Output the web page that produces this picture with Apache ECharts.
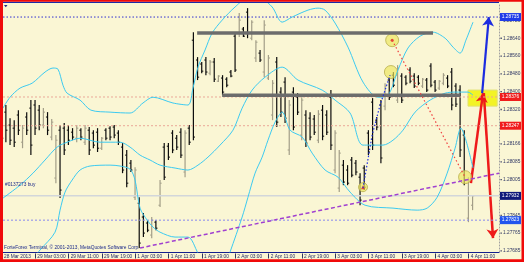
<!DOCTYPE html>
<html><head><meta charset="utf-8">
<script src="https://cdn.jsdelivr.net/npm/echarts/dist/echarts.min.js"></script>
<style>html,body{margin:0;padding:0;background:#FAF6D4;}#c{width:524px;height:262px;}</style>
</head><body><div id="c"></div><script>
// ---- axis extents (bar index / price) ----
const X_MIN = 0.31, X_MAX = 119.34, Y_MIN = 1.2768, Y_MAX = 1.28798;

// ---- time axis labels (bar index of each label) ----
const timeLabels = ['28 Mar 2013','29 Mar 03:00','29 Mar 11:00','29 Mar 19:00','1 Apr 03:00','1 Apr 11:00','1 Apr 19:00','2 Apr 03:00','2 Apr 11:00','2 Apr 19:00','3 Apr 03:00','3 Apr 11:00','3 Apr 19:00','4 Apr 03:00','4 Apr 11:00'];
const timeLabelBars = [0,8,16,24,32,40,48,56,64,72,80,88,96,104,112];

// ---- price scale labels ----
const priceTicks = ['1.28720','1.28640','1.28560','1.28480','1.28400','1.28320','1.28166','1.28085','1.28005','1.27845','1.27765','1.27685'];
const priceBoxes = [1.28735, 1.28376, 1.28247, 1.27932, 1.27823];

// ---- H1 OHLC bars ----
const open = [1.28263,1.28308,1.28250,1.28236,1.28295,1.28173,1.28286,1.28326,1.28340,1.28317,
1.28250,1.28286,1.28196,1.28012,1.28227,1.28236,1.28227,1.28218,1.28191,1.28227,
1.28173,1.28227,1.28214,1.28218,1.28146,1.28227,1.28236,1.28241,1.28214,1.28151,
1.28115,1.28079,1.27926,1.27899,1.27837,1.27810,1.27756,1.27814,1.27890,1.28151,
1.28155,1.28214,1.28191,1.28218,1.28039,1.28236,1.28631,1.28542,1.28524,1.28542,
1.28483,1.28533,1.28447,1.28461,1.28456,1.28488,1.28649,1.28663,1.28681,1.28757,
1.28640,1.28551,1.28573,1.28488,1.28461,1.28295,1.28533,1.28398,1.28443,1.28138,
1.28398,1.28375,1.28205,1.28295,1.28281,1.28277,1.28182,1.28317,1.28295,1.28375,
1.28048,1.27967,1.28070,1.28048,1.28093,1.28079,1.28016,1.28057,1.28214,1.28353,
1.28272,1.28340,1.28335,1.28452,1.28474,1.28362,1.28470,1.28465,1.28497,1.28470,
1.28465,1.28425,1.28452,1.28515,1.28443,1.28416,1.28438,1.28461,1.28488,1.28425,
1.28407,1.28205,1.27832,1.27890];
const high = [1.28295,1.28340,1.28281,1.28272,1.28317,1.28250,1.28308,1.28362,1.28362,1.28340,
1.28326,1.28308,1.28277,1.28205,1.28250,1.28259,1.28250,1.28236,1.28250,1.28236,
1.28250,1.28241,1.28227,1.28236,1.28196,1.28236,1.28245,1.28250,1.28227,1.28169,
1.28138,1.28093,1.28061,1.27926,1.27855,1.27823,1.27837,1.27823,1.28003,1.28169,
1.28169,1.28227,1.28205,1.28236,1.28227,1.28250,1.28667,1.28555,1.28533,1.28555,
1.28542,1.28551,1.28474,1.28474,1.28465,1.28497,1.28663,1.28753,1.28690,1.28775,
1.28721,1.28631,1.28587,1.28721,1.28564,1.28452,1.28555,1.28420,1.28465,1.28362,
1.28420,1.28393,1.28375,1.28317,1.28308,1.28295,1.28317,1.28340,1.28317,1.28407,
1.28227,1.28138,1.28093,1.28070,1.28106,1.28093,1.28034,1.28070,1.28227,1.28371,
1.28286,1.28362,1.28438,1.28465,1.28488,1.28519,1.28483,1.28474,1.28510,1.28483,
1.28474,1.28461,1.28461,1.28528,1.28452,1.28452,1.28483,1.28474,1.28506,1.28438,
1.28429,1.28227,1.28016,1.27935];
const low = [1.28151,1.28173,1.28160,1.28151,1.28205,1.28146,1.28205,1.28115,1.28205,1.28227,
1.28236,1.28205,1.28182,1.27989,1.27922,1.28115,1.28160,1.28182,1.28173,1.28182,
1.28160,1.28115,1.28146,1.28129,1.28138,1.28182,1.28182,1.28191,1.28160,1.28034,
1.27971,1.28039,1.27913,1.27698,1.27747,1.27769,1.27742,1.27778,1.27882,1.28003,
1.28093,1.28124,1.28138,1.28102,1.28016,1.28160,1.28182,1.28452,1.28483,1.28474,
1.28474,1.28443,1.28443,1.28384,1.28420,1.28465,1.28488,1.28645,1.28645,1.28640,
1.28631,1.28533,1.28533,1.28465,1.28452,1.28272,1.28241,1.28286,1.28259,1.28115,
1.28227,1.28295,1.28182,1.28151,1.28182,1.28205,1.28169,1.28182,1.28205,1.28138,
1.28034,1.27949,1.27980,1.27980,1.28016,1.28025,1.27890,1.27958,1.28115,1.28138,
1.28227,1.28079,1.28317,1.28362,1.28420,1.28349,1.28349,1.28429,1.28438,1.28416,
1.28429,1.28416,1.28398,1.28420,1.28398,1.28407,1.28429,1.28416,1.28317,1.28331,
1.28106,1.27980,1.27814,1.27868];
const close = [1.28191,1.28227,1.28182,1.28173,1.28227,1.28236,1.28227,1.28160,1.28236,1.28250,
1.28308,1.28227,1.28263,1.28182,1.27958,1.28138,1.28182,1.28196,1.28236,1.28196,
1.28236,1.28138,1.28160,1.28146,1.28191,1.28191,1.28196,1.28205,1.28173,1.28048,
1.27989,1.28048,1.28048,1.27720,1.27765,1.27778,1.27823,1.27787,1.27989,1.28016,
1.28106,1.28138,1.28151,1.28115,1.28214,1.28173,1.28196,1.28465,1.28492,1.28488,
1.28533,1.28456,1.28470,1.28398,1.28429,1.28470,1.28497,1.28721,1.28649,1.28663,
1.28712,1.28622,1.28542,1.28699,1.28551,1.28438,1.28263,1.28308,1.28281,1.28340,
1.28241,1.28308,1.28362,1.28169,1.28196,1.28218,1.28299,1.28200,1.28218,1.28160,
1.28214,1.28124,1.27994,1.27989,1.28025,1.28039,1.27913,1.27971,1.28129,1.28160,
1.28241,1.28102,1.28425,1.28375,1.28429,1.28506,1.28362,1.28438,1.28447,1.28425,
1.28438,1.28456,1.28407,1.28429,1.28407,1.28447,1.28474,1.28425,1.28340,1.28344,
1.28138,1.28003,1.28003,1.27932];

// ---- band indicator lines [bar index, price] ----
const bandUpper = [[0.3,1.28326],[2.0,1.28375],[4.4,1.28416],[7.3,1.28438],[10.4,1.28488],[12.3,1.28506],[13.5,1.28501],[14.7,1.28429],[15.7,1.28393],[18.8,1.28362],[21.4,1.28317],[26.0,1.28308],[30.8,1.28304],[33.9,1.28349],[36.3,1.28375],[41.1,1.28349],[44.7,1.28340],[45.9,1.28416],[47.1,1.28510],[48.8,1.28587],[50.5,1.28663],[52.9,1.28721],[56.0,1.28780],[58.4,1.28811],[62.5,1.28811],[64.9,1.28780],[67.3,1.28712],[69.7,1.28735],[73.5,1.28766],[75.9,1.28775],[77.6,1.28766],[80.0,1.28708],[83.1,1.28600],[86.7,1.28443],[90.3,1.28375],[92.7,1.28384],[95.1,1.28497],[97.5,1.28596],[100.4,1.28649],[103.5,1.28667],[106.4,1.28640],[108.3,1.28600],[110.0,1.28573],[111.4,1.28631],[113.1,1.28712]];
const bandMiddle = [[0.3,1.27922],[4.4,1.27980],[7.5,1.28034],[10.4,1.28093],[13.3,1.28151],[15.7,1.28173],[18.8,1.28191],[23.6,1.28173],[28.4,1.28173],[30.8,1.28151],[33.2,1.28115],[35.6,1.28093],[38.0,1.28070],[41.6,1.28057],[44.7,1.28048],[47.1,1.28070],[49.5,1.28106],[52.4,1.28160],[55.5,1.28227],[57.7,1.28326],[60.1,1.28407],[63.2,1.28465],[67.3,1.28510],[71.1,1.28452],[76.9,1.28407],[80.0,1.28362],[83.6,1.28304],[86.7,1.28160],[91.5,1.28160],[93.9,1.28182],[96.3,1.28227],[99.2,1.28308],[102.8,1.28362],[106.4,1.28393],[108.8,1.28398],[111.9,1.28398],[113.1,1.28384]];
const bandLower = [[6.8,1.27635],[9.2,1.27689],[12.8,1.27769],[14.0,1.27868],[15.2,1.27949],[16.9,1.28003],[18.8,1.28048],[21.2,1.28066],[26.0,1.28070],[28.4,1.28066],[30.8,1.28052],[32.0,1.28003],[33.2,1.27877],[34.9,1.27823],[36.3,1.27792],[38.0,1.27769],[41.6,1.27747],[44.7,1.27747],[47.1,1.27675],[48.8,1.27621],[53.6,1.27621],[54.8,1.27680],[57.7,1.27837],[59.1,1.27926],[60.8,1.28034],[62.5,1.28106],[63.9,1.28182],[65.6,1.28263],[67.3,1.28308],[69.2,1.28227],[72.1,1.28196],[74.5,1.28124],[77.6,1.28048],[80.7,1.28016],[83.6,1.27949],[87.2,1.27890],[93.9,1.27877],[99.7,1.27868],[102.1,1.27877],[104.5,1.27926],[106.9,1.28034],[108.8,1.28146],[110.2,1.28236],[111.4,1.28182],[113.1,1.28057]];

// ---- drawn objects ----
const levelTop = 1.28735, levelPink = [1.28376, 1.28247], bidLine = 1.27932, levelLow = 1.27823;
const grayUpper = [[46.9,1.28663],[103.5,1.28663]];
const grayLower = [[52.9,1.28384],[110.0,1.28384]];
const trendLine = [[33.2,1.27698],[119.34,1.28034]];
const redDotted = [[93.7,1.28631],[111.2,1.28016]];
const blueDotted = [[86.7,1.27967],[88.9,1.28205],[90.8,1.28340],[93.2,1.28474]];
const circles = [[93.7,1.28631],[93.4,1.28488],[111.2,1.28016]];
const smallCircle = [[86.7,1.27971]];
const yellowBox = [[111.9,1.28407,118.9,1.28335]];
const arrowBlue = [[115.3,1.28393],[116.9,1.28735]];
const arrowRedUp = [[112.6,1.27989],[115.5,1.28393]];
const arrowRedDown = [[115.7,1.28393],[117.9,1.27742]];

const boxColors = ['#1f3ce8','#f01c1c','#f01c1c','#10187a','#2456ee'];
const FONT = '4.8px "Liberation Sans", Arial, sans-serif';
const NAVY = '#222a6a';

const bars = open.map((o,i)=>[i,o,high[i],low[i],close[i]]);
const hline = (p)=>[[X_MIN,p],[X_MAX,p]];

function lineSeries(data, color, width, type, extra){
  return Object.assign({type:'line', data, showSymbol:false, symbol:'none', animation:false,
    lineStyle:{color, width, type: type||'solid'}, silent:true}, extra||{});
}

const chart = echarts.init(document.getElementById('c'), null, {renderer:'canvas'});
chart.setOption({
  animation:false,
  backgroundColor:'#FAF6D4',
  grid:{left:3,right:25,top:3,bottom:10,show:false},
  xAxis:{type:'value',min:X_MIN,max:X_MAX,axisLine:{show:true,onZero:false,lineStyle:{color:'#14208e',width:1}},
    axisTick:{show:false},axisLabel:{show:false},splitLine:{show:false}},
  yAxis:{type:'value',position:'right',min:Y_MIN,max:Y_MAX,scale:true,
    axisLine:{show:true,lineStyle:{color:'#a0a0a0',type:[1,2]}},axisTick:{show:false},axisLabel:{show:false},splitLine:{show:false}},
  series:[
    lineSeries(hline(levelTop),'#2f2fd0',1,[1.5,2]),
    lineSeries(hline(levelPink[0]),'#eaa898',1,[2,2]),
    lineSeries(hline(levelPink[1]),'#eaa898',1,[2,2]),
    lineSeries(hline(bidLine),'#d2d6da',1.5,'solid'),
    lineSeries(hline(levelLow),'#8888ee',1,[2,2]),
    lineSeries(bandUpper,'#3ccaf0',1,'solid',{smooth:0.3}),
    lineSeries(bandMiddle,'#3ccaf0',1,'solid',{smooth:0.3}),
    lineSeries(bandLower,'#3ccaf0',1,'solid',{smooth:0.3}),
    lineSeries(trendLine,'#a040d0',1.5,[4,2.5]),
    {type:'custom',data:bars,encode:{x:0,y:[1,2,3,4]},clip:true,silent:true,
      renderItem:function(params,api){
        const i=api.value(0), o=api.value(1), h=api.value(2), l=api.value(3), c=api.value(4);
        const ph=api.coord([i,h]), pl=api.coord([i,l]), po=api.coord([i,o]), pc=api.coord([i,c]);
        const col = c>=o ? '#a39e88' : '#0c0c0c';
        const x=ph[0];
        return {type:'group',children:[
          {type:'line',shape:{x1:x,y1:ph[1],x2:x,y2:pl[1]},style:{stroke:col,lineWidth:1.2}},
          {type:'line',shape:{x1:x-1.6,y1:po[1],x2:x,y2:po[1]},style:{stroke:col,lineWidth:1}},
          {type:'line',shape:{x1:x,y1:pc[1],x2:x+1.6,y2:pc[1]},style:{stroke:col,lineWidth:1}}
        ]};
      }},
    lineSeries(grayUpper,'#6c6c6c',3.5,'solid'),
    lineSeries(grayLower,'#6c6c6c',3.5,'solid'),
    {type:'custom',data:yellowBox,silent:true,
      renderItem:function(params,api){
        const a=api.coord([api.value(0),api.value(1)]), b=api.coord([api.value(2),api.value(3)]);
        return {type:'rect',shape:{x:a[0],y:a[1],width:b[0]-a[0],height:b[1]-a[1]},style:{fill:'#f3f326',stroke:'#e0e070',lineWidth:1}};
      }},
    lineSeries(redDotted,'#f04040',1.2,[1.5,2.5]),
    lineSeries(blueDotted,'#2030e0',1.2,[1.5,2]),
    {type:'scatter',data:circles,symbolSize:13,silent:true,itemStyle:{color:'rgba(236,230,96,0.85)',borderColor:'#b8ae4c',borderWidth:1}},
    {type:'scatter',data:smallCircle,symbolSize:9,silent:true,itemStyle:{color:'rgba(236,230,96,0.9)',borderColor:'#b8ae4c',borderWidth:1}},
    {type:'scatter',data:[circles[0]],symbolSize:3,silent:true,itemStyle:{color:'#e02020'}},
    {type:'scatter',data:smallCircle,symbol:'triangle',symbolSize:4,silent:true,itemStyle:{color:'#e02020'}},
    {type:'lines',coordinateSystem:'cartesian2d',silent:true,symbol:['none','arrow'],symbolSize:9,
      lineStyle:{color:'#ee1a1a',width:2.5,opacity:1},
      data:[{coords:arrowRedUp},{coords:arrowRedDown}]},
    {type:'lines',coordinateSystem:'cartesian2d',silent:true,symbol:['none','arrow'],symbolSize:9,
      lineStyle:{color:'#1c2ce0',width:2.2,opacity:1},
      data:[{coords:arrowBlue}]},
    // price scale labels
    {type:'custom',data:priceTicks.map(t=>[X_MAX,parseFloat(t)]),silent:true,clip:false,
      renderItem:function(params,api){
        const p=api.coord([api.value(0),api.value(1)]);
        return {type:'group',children:[
          {type:'rect',shape:{x:p[0]+1.5,y:p[1]-0.6,width:1.3,height:1.3},style:{fill:'#333a60'}},
          {type:'text',style:{text:api.value(1).toFixed(5),x:p[0]+4,y:p[1],fill:'#2e3664',font:FONT,verticalAlign:'middle',align:'left'}}
        ]};
      }},
    {type:'custom',data:priceBoxes.map((v,k)=>[X_MAX,v,k]),silent:true,clip:false,
      renderItem:function(params,api){
        const p=api.coord([api.value(0),api.value(1)]);
        const k=api.value(2);
        return {type:'group',children:[
          {type:'rect',shape:{x:p[0]+1,y:p[1]-4,width:21,height:8},style:{fill:boxColors[k]}},
          {type:'text',style:{text:api.value(1).toFixed(5),x:p[0]+11.5,y:p[1],fill:'#ffffff',font:FONT,verticalAlign:'middle',align:'center'}}
        ]};
      }},
    // time labels
    {type:'custom',data:timeLabelBars.map((b,k)=>[b,Y_MIN,k]),silent:true,clip:false,
      renderItem:function(params,api){
        const p=api.coord([api.value(0),api.value(1)]);
        const k=api.value(2);
        const x=Math.round(p[0])+0.5;
        return {type:'group',children:[
          {type:'line',shape:{x1:x,y1:p[1]+1.5,x2:x,y2:p[1]+6.5},style:{stroke:'#2e3664',lineWidth:1}},
          {type:'text',style:{text:timeLabels[k],x:p[0]+2.3,y:p[1]+4.3,fill:NAVY,font:FONT,verticalAlign:'middle',align:'left'}}
        ]};
      }}
  ],
  graphic:[
    {type:'text',z:50,x:5,y:184.3,style:{text:'#0137273 buy',fill:'#1c2a8a',font:FONT,verticalAlign:'middle'}},
    {type:'text',z:50,x:4,y:247.5,style:{text:'ForteForex Terminal, © 2001-2013, MetaQuotes Software Corp.',fill:'#1c2a8a',font:FONT,verticalAlign:'middle'}},
    {type:'polygon',z:50,shape:{points:[[4,5],[7.5,5],[5.75,7.2]]},style:{fill:'#1c2a8a'}},
    {type:'rect',z:60,shape:{x:3,y:1.7,width:496,height:1.3},style:{fill:'#1a28a8'}},
    {type:'rect',z:60,shape:{x:0,y:0,width:3,height:262},style:{fill:'#f00a0a'}},
    {type:'rect',z:60,shape:{x:0,y:0,width:524,height:1.8},style:{fill:'#f00a0a'}},
    {type:'rect',z:60,shape:{x:521.5,y:0,width:2.5,height:262},style:{fill:'#f00a0a'}},
    {type:'rect',z:60,shape:{x:0,y:259.3,width:524,height:2.7},style:{fill:'#f00a0a'}}
  ]
});
</script></body></html>
